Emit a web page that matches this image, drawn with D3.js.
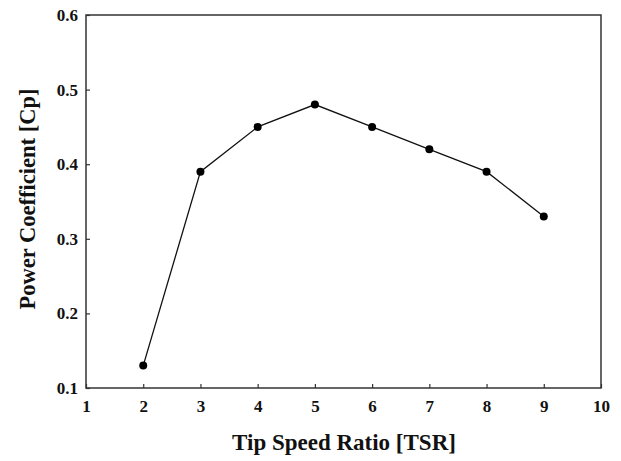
<!DOCTYPE html>
<html><head><meta charset="utf-8">
<script src="https://cdn.jsdelivr.net/npm/d3@7"></script>
<style>body{margin:0;background:#fff}svg{display:block}</style>
</head><body>
<script>
const tsr = [2, 3, 4, 5, 6, 7, 8, 9];
const cp = [0.13, 0.39, 0.45, 0.48, 0.45, 0.42, 0.39, 0.33];
const xTicks = [1, 2, 3, 4, 5, 6, 7, 8, 9, 10];
const yTicks = [0.1, 0.2, 0.3, 0.4, 0.5, 0.6];
const xTitle = "Tip Speed Ratio [TSR]";
const yTitle = "Power Coefficient [Cp]";

const W = 621, H = 461;
const m = {left: 86, right: 20, top: 15, bottom: 73};
const svg = d3.select("body").append("svg").attr("width", W).attr("height", H)
  .style("font-family", "'Liberation Serif', 'Times New Roman', serif");
const x = d3.scaleLinear().domain([1, 10]).range([m.left, W - m.right]);
const y = d3.scaleLinear().domain([0.1, 0.6]).range([H - m.bottom, m.top]);

svg.append("rect").attr("x", m.left).attr("y", m.top)
  .attr("width", x(10) - x(1)).attr("height", y(0.1) - y(0.6))
  .attr("fill", "none").attr("stroke", "#333").attr("stroke-width", 1.5);

const xa = svg.append("g").attr("transform", `translate(0,${y(0.1)})`)
  .call(d3.axisBottom(x).tickValues(xTicks).tickSize(-4).tickPadding(12).tickFormat(d3.format("d")));
const ya = svg.append("g").attr("transform", `translate(${m.left},0)`)
  .call(d3.axisLeft(y).tickValues(yTicks).tickSize(-4).tickPadding(8).tickFormat(d3.format(".1f")));
[xa, ya].forEach(a => {
  a.select(".domain").remove();
  a.selectAll(".tick line").attr("stroke", "#333").attr("stroke-width", 1.2);
  a.selectAll("text").attr("fill", "#111").style("font-size", "17px").style("font-weight", "bold")
    .style("font-family", "'Liberation Serif', serif");
});

svg.append("path").datum(tsr.map((t, i) => [t, cp[i]]))
  .attr("d", d3.line().x(d => x(d[0])).y(d => y(d[1])))
  .attr("fill", "none").attr("stroke", "#111").attr("stroke-width", 1.3);
svg.selectAll("circle.pt").data(tsr.map((t, i) => [t, cp[i]])).enter().append("circle")
  .attr("cx", d => x(d[0])).attr("cy", d => y(d[1])).attr("r", 4).attr("fill", "#000");

svg.append("text").attr("x", 344).attr("y", 450).attr("text-anchor", "middle")
  .style("font-size", "23px").style("font-weight", "bold").attr("fill", "#111").text(xTitle);
svg.append("text").attr("transform", `translate(35,199) rotate(-90)`)
  .attr("text-anchor", "middle").style("font-size", "22.5px").style("font-weight", "bold")
  .attr("fill", "#111").text(yTitle);
</script>
</body></html>
